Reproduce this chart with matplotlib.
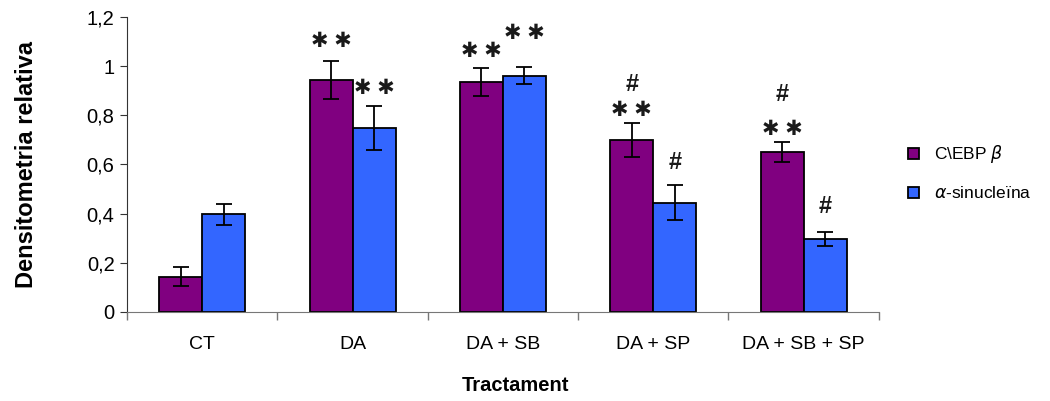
import numpy as np
import matplotlib
matplotlib.use('Agg')
from matplotlib import pyplot as plt

plt.rcParams['font.family'] = ['Liberation Sans', 'DejaVu Sans']

groups = ['CT', 'DA', 'DA + SB', 'DA + SP', 'DA + SB + SP']
cebp = [0.144, 0.944, 0.936, 0.70, 0.65]
cebp_err = [0.04, 0.078, 0.057, 0.07, 0.042]
syn = [0.397, 0.747, 0.96, 0.445, 0.297]
syn_err = [0.042, 0.09, 0.035, 0.07, 0.03]

# significance marks: (text, height) per bar
cebp_marks = [[], [('✱ ✱', 1.10)], [('✱ ✱', 1.058)],
              [('#', 0.923), ('✱ ✱', 0.819)], [('#', 0.886), ('✱ ✱', 0.743)]]
syn_marks = [[], [('✱ ✱', 0.91)], [('✱ ✱', 1.131)], [('#', 0.606)], [('#', 0.428)]]

yticks = [0, 0.2, 0.4, 0.6, 0.8, 1.0, 1.2]
ytick_labels = ['0', '0,2', '0,4', '0,6', '0,8', '1', '1,2']

fig = plt.figure(figsize=(10.5, 4.01), dpi=100)
ax = fig.add_axes([0.121, 0.222, 0.716, 0.736])

x = np.arange(len(groups))
w = 0.286
err_kw = dict(ecolor='black', elinewidth=1.3, capsize=5.5, capthick=1.3)
ax.bar(x - w/2, cebp, w, yerr=cebp_err, color='#800080', edgecolor='black',
       linewidth=1.3, error_kw=err_kw, label=r'C\EBP $\beta$')
ax.bar(x + w/2, syn, w, yerr=syn_err, color='#3366ff', edgecolor='black',
       linewidth=1.3, error_kw=err_kw, label=r'$\alpha$-sinucleïna')


def mark(xpos, txt, h):
    fs = 17 if txt == '#' else 15
    ax.text(xpos, h, txt, ha='center', va='center', fontsize=fs,
            fontweight='bold', color='#1a1a1a')


for i in range(len(groups)):
    for txt, h in cebp_marks[i]:
        mark(x[i] - w/2, txt, h)
    for txt, h in syn_marks[i]:
        mark(x[i] + w/2, txt, h)

ax.set_xlim(-0.5, len(groups) - 0.5)
ax.set_ylim(0, 1.2)
ax.set_yticks(yticks)
ax.set_yticklabels(ytick_labels)
ax.set_xticks(x)
ax.set_xticklabels(groups)
ax.set_xticks(np.arange(len(groups) + 1) - 0.5, minor=True)
ax.tick_params(axis='x', which='major', length=0, pad=17, labelsize=14)
ax.tick_params(axis='x', which='minor', length=6, color='#777777', width=1)
ax.tick_params(axis='y', length=5, color='#333333', pad=4, labelsize=14.5)

for s in ['top', 'right']:
    ax.spines[s].set_visible(False)
ax.spines['left'].set_color('#333333')
ax.spines['bottom'].set_color('#777777')

ax.set_ylabel('Densitometria relativa', fontsize=17, fontweight='bold')
ax.yaxis.set_label_coords(-0.119, 0.5)
ax.set_xlabel('Tractament', fontsize=14.5, fontweight='bold')
ax.xaxis.set_label_coords(0.516, -0.217)

fig.legend(loc='center left', bbox_to_anchor=(0.85, 0.57), frameon=False,
           fontsize=12.5, handlelength=0.6, handleheight=0.6, labelspacing=1.15,
           handletextpad=0.9)

fig.savefig('out.png', dpi=100)
